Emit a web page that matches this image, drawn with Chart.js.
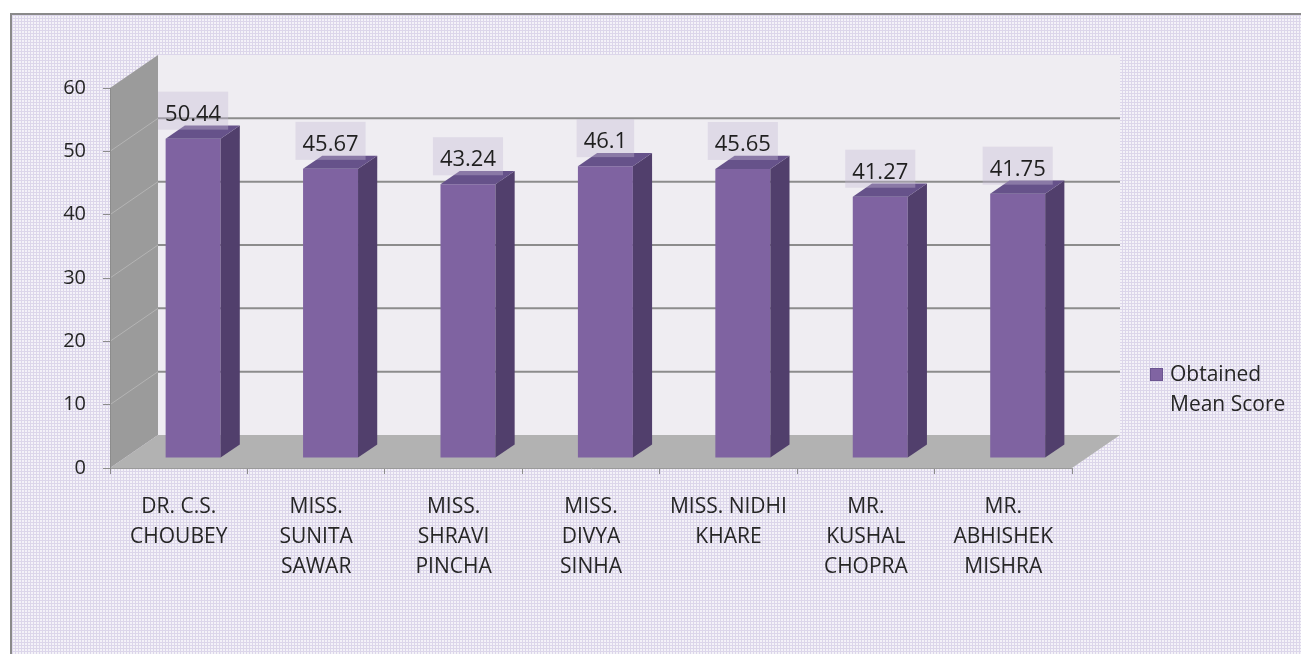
<!DOCTYPE html>
<html>
<head>
<meta charset="utf-8">
<script src="https://cdn.jsdelivr.net/npm/chart.js@4.4.0/dist/chart.umd.min.js"></script>
<style>
  html, body { margin: 0; padding: 0; background: #fff; }
  #wrap { width: 1301px; height: 654px; position: relative; }
</style>
</head>
<body>
<div id="wrap"><canvas id="scoreChart"></canvas></div>
<script>
/* global Chart */

const names = [
  ['DR. C.S.', 'CHOUBEY'],
  ['MISS.', 'SUNITA', 'SAWAR'],
  ['MISS.', 'SHRAVI', 'PINCHA'],
  ['MISS.', 'DIVYA', 'SINHA'],
  ['MISS. NIDHI', 'KHARE'],
  ['MR.', 'KUSHAL', 'CHOPRA'],
  ['MR.', 'ABHISHEK', 'MISHRA'],
];
const meanScores = [50.44, 45.67, 43.24, 46.1, 45.65, 41.27, 41.75];
const seriesLabel = ['Obtained', 'Mean Score'];
const yTicks = [0, 10, 20, 30, 40, 50, 60];

// fake 3d: how far the back wall sits behind the front plane
const DEPTH = { x: 48, y: -33 };
const BAR_AT = 0.3;
const BAR_DEPTH = 0.4;
const FONT = '"Open Sans", "Liberation Sans", sans-serif';

function makePattern(ctx) {
  const tile = document.createElement('canvas');
  tile.width = 3;
  tile.height = 3;
  const t = tile.getContext('2d');
  t.fillStyle = '#f4f2f8';
  t.fillRect(0, 0, 3, 3);
  t.fillStyle = '#dcd6ea';
  t.fillRect(0, 0, 3, 1);
  t.fillRect(0, 0, 1, 3);
  return ctx.createPattern(tile, 'repeat');
}

function poly(ctx, pts, fill) {
  ctx.beginPath();
  ctx.moveTo(pts[0][0], pts[0][1]);
  for (let i = 1; i < pts.length; i += 1) ctx.lineTo(pts[i][0], pts[i][1]);
  ctx.closePath();
  ctx.fillStyle = fill;
  ctx.fill();
}

const box3d = {
  id: 'box3d',
  beforeDraw(chart) {
    const { ctx, chartArea: a } = chart;
    const y = chart.scales.y;
    ctx.save();
    // patterned page + border
    ctx.fillStyle = makePattern(ctx);
    ctx.fillRect(10, 13, chart.width - 10, chart.height - 13);
    ctx.strokeStyle = '#8a8a8a';
    ctx.lineWidth = 2;
    ctx.beginPath();
    ctx.moveTo(11, chart.height);
    ctx.lineTo(11, 14);
    ctx.lineTo(chart.width, 14);
    ctx.stroke();

    const top = y.getPixelForValue(yTicks[yTicks.length - 1]);
    const bottom = y.getPixelForValue(0);
    // back wall
    poly(ctx, [
      [a.left + DEPTH.x, top + DEPTH.y], [a.right + DEPTH.x, top + DEPTH.y],
      [a.right + DEPTH.x, bottom + DEPTH.y], [a.left + DEPTH.x, bottom + DEPTH.y],
    ], '#efedf2');
    // side wall
    poly(ctx, [
      [a.left, top], [a.left + DEPTH.x, top + DEPTH.y],
      [a.left + DEPTH.x, bottom + DEPTH.y], [a.left, bottom],
    ], '#9b9b9b');
    // grid lines on the walls
    yTicks.forEach((v) => {
      if (v === 0 || v === yTicks[yTicks.length - 1]) return;
      const py = y.getPixelForValue(v);
      ctx.strokeStyle = '#8c8c8c';
      ctx.lineWidth = 2;
      ctx.beginPath();
      ctx.moveTo(a.left + DEPTH.x, py + DEPTH.y);
      ctx.lineTo(a.right + DEPTH.x, py + DEPTH.y);
      ctx.stroke();
      ctx.strokeStyle = '#b4b4b4';
      ctx.lineWidth = 1;
      ctx.beginPath();
      ctx.moveTo(a.left, py);
      ctx.lineTo(a.left + DEPTH.x, py + DEPTH.y);
      ctx.stroke();
    });
    // floor
    poly(ctx, [
      [a.left, bottom], [a.right, bottom],
      [a.right + DEPTH.x, bottom + DEPTH.y], [a.left + DEPTH.x, bottom + DEPTH.y],
    ], '#b2b2b2');
    ctx.restore();
  },
  beforeDatasetDraw(chart) {
    chart.ctx.save();
    chart.ctx.translate(DEPTH.x * BAR_AT, DEPTH.y * BAR_AT);
  },
  afterDatasetDraw(chart, args) {
    const { ctx } = chart;
    const dx = DEPTH.x * BAR_DEPTH;
    const dy = DEPTH.y * BAR_DEPTH;
    args.meta.data.forEach((bar) => {
      const l = bar.x - bar.width / 2;
      const r = bar.x + bar.width / 2;
      poly(ctx, [[r, bar.y], [r + dx, bar.y + dy], [r + dx, bar.base + dy], [r, bar.base]], '#513f6c');
      poly(ctx, [[l, bar.y], [r, bar.y], [r + dx, bar.y + dy], [l + dx, bar.y + dy]], '#66528a');
    });
    ctx.restore();
  },
  afterDatasetsDraw(chart) {
    const { ctx } = chart;
    const meta = chart.getDatasetMeta(0);
    ctx.save();
    ctx.font = `22px ${FONT}`;
    ctx.textAlign = 'center';
    ctx.textBaseline = 'alphabetic';
    meta.data.forEach((bar, i) => {
      const cx = bar.x + DEPTH.x * BAR_AT;
      const ty = bar.y + DEPTH.y * BAR_AT;
      const txt = String(meanScores[i]);
      const w = ctx.measureText(txt).width + 14;
      ctx.fillStyle = 'rgba(196, 186, 214, 0.38)';
      ctx.fillRect(cx - w / 2, ty - 47, w, 38);
      ctx.fillStyle = '#1f1f1f';
      ctx.fillText(txt, cx, ty - 18);
    });
    // legend
    const a = chart.chartArea;
    const lx = a.right + 78;
    const ly = chart.scales.y.getPixelForValue(15);
    ctx.fillStyle = '#8064a2';
    ctx.fillRect(lx, ly - 5, 13, 13);
    ctx.strokeStyle = '#6c5590';
    ctx.lineWidth = 1;
    ctx.strokeRect(lx + 0.5, ly - 4.5, 12, 12);
    ctx.font = `21px ${FONT}`;
    ctx.textAlign = 'left';
    ctx.textBaseline = 'middle';
    ctx.fillStyle = '#262626';
    seriesLabel.forEach((line, i) => {
      ctx.fillText(line, lx + 20, ly + 2 + i * 30);
    });
    ctx.restore();
  },
};

const ctx = document.getElementById('scoreChart');
const scoreChart = new Chart(ctx, {
  type: 'bar',
  data: {
    labels: names,
    datasets: [
      {
        label: seriesLabel.join(' '),
        data: meanScores,
        backgroundColor: '#7f63a1',
        borderWidth: 0,
        barPercentage: 0.4,
        categoryPercentage: 1,
      },
    ],
  },
  options: {
    responsive: true,
    maintainAspectRatio: false,
    animation: false,
    layout: {
      padding: {
        left: 50, right: 229, top: 88, bottom: 66,
      },
    },
    plugins: {
      legend: { display: false },
      tooltip: { enabled: false },
    },
    scales: {
      x: {
        afterFit(scale) { scale.height = 120; },
        grid: {
          drawOnChartArea: false,
          drawTicks: true,
          tickLength: 6,
          offset: true,
          color: '#8c8c8c',
        },
        border: { display: true, color: '#9a9a9a' },
        ticks: {
          autoSkip: false,
          maxRotation: 0,
          padding: 18,
          color: '#262626',
          font: { family: FONT, size: 21, lineHeight: 1.43 },
        },
      },
      y: {
        min: 0,
        max: 60,
        afterFit(scale) { scale.width = 60; },
        afterBuildTicks(scale) { scale.ticks = yTicks.map((v) => ({ value: v })); },
        grid: {
          drawOnChartArea: false,
          drawTicks: true,
          tickLength: 7,
          color: '#8c8c8c',
        },
        border: { display: true, color: '#8c8c8c' },
        ticks: {
          padding: 17,
          color: '#262626',
          font: { family: FONT, size: 20 },
        },
      },
    },
  },
  plugins: [box3d],
});
</script>
</body>
</html>
